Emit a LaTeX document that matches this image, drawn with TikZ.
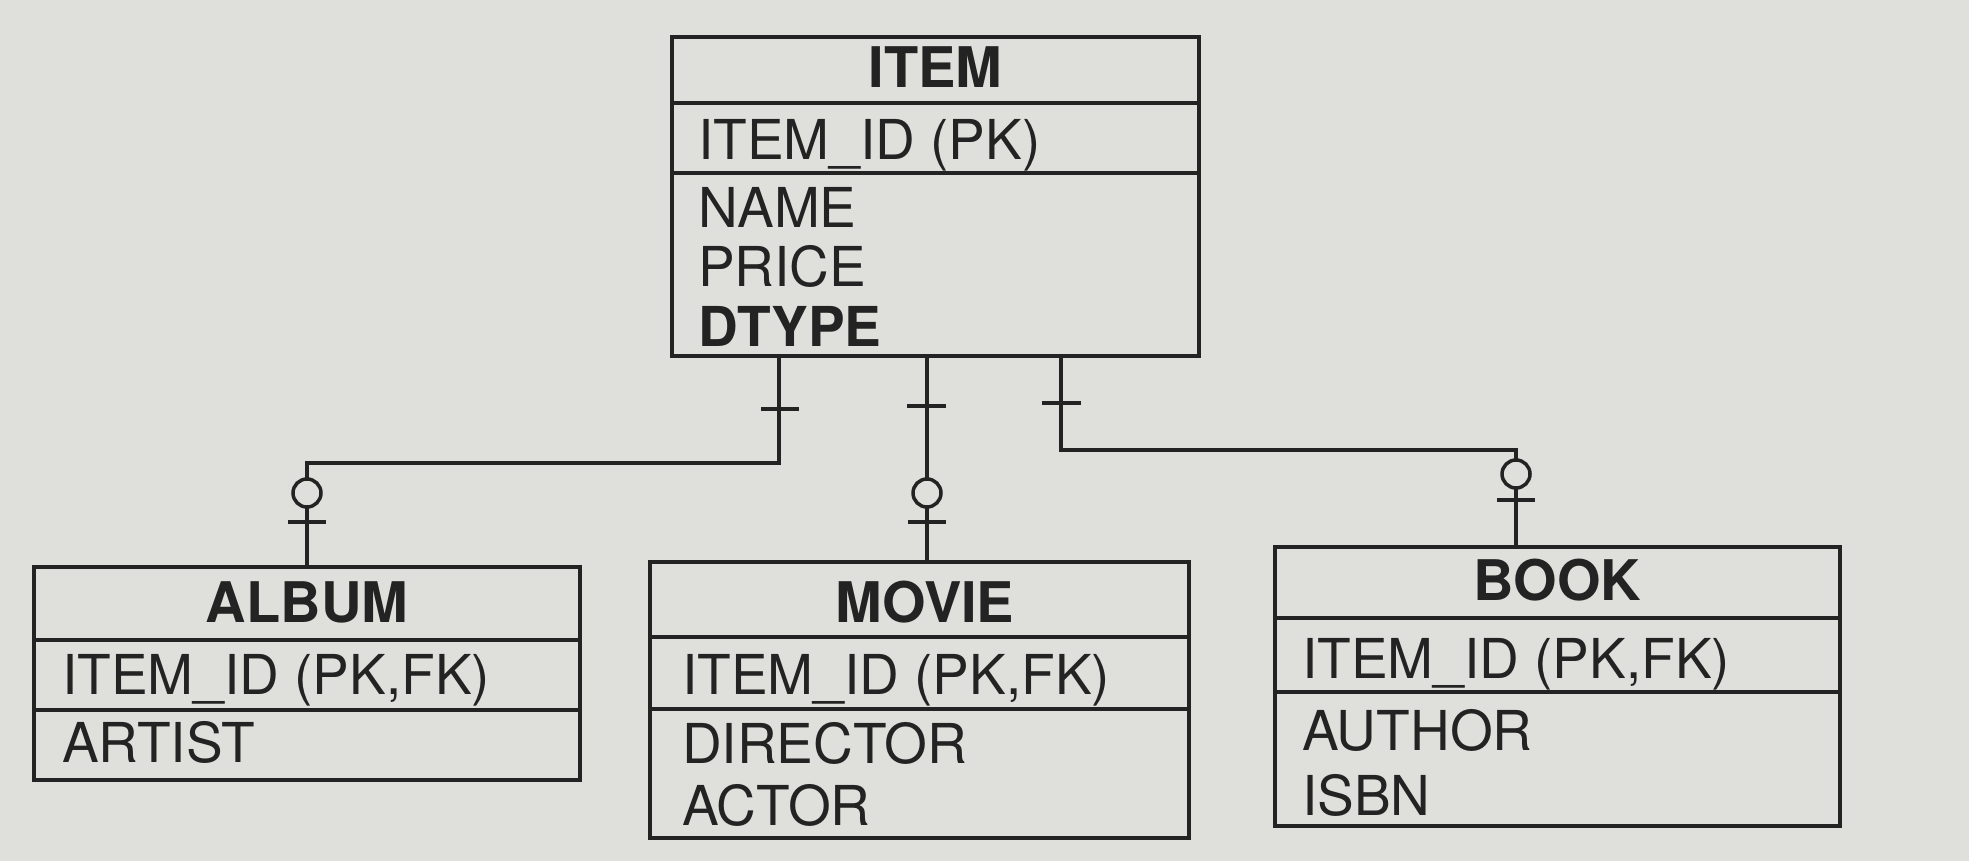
\documentclass[tikz,border=0pt]{standalone}
\usepackage{fontspec}
\setmainfont{TeX Gyre Heros}
\definecolor{bg}{RGB}{223,223,219}
\definecolor{ink}{RGB}{35,35,35}
\tikzset{
  entity/.style={draw=ink, line width=4pt, rectangle, inner sep=0pt},
  sepline/.style={draw=ink, line width=3.5pt},
  conn/.style={draw=ink, line width=3.5pt},
  field/.style={anchor=base west, inner sep=0pt, text=ink, font=\fontsize{55}{60}\selectfont},
  title/.style={anchor=base, inner sep=0pt, text=ink, font=\fontsize{56}{60}\selectfont\bfseries},
  circ/.style={draw=ink, line width=3.5pt, fill=bg}
}
\begin{document}
\begin{tikzpicture}[x=1pt,y=-1pt]
\fill[bg] (0,0) rectangle (1969,861);
\useasboundingbox (0,0) rectangle (1969,861);

% ITEM
\node[entity, minimum width=527pt, minimum height=319pt] (item) at (935.5,196.5) {};
\draw[sepline] (item.west |- 0,103) -- (item.east |- 0,103);
\draw[sepline] (item.west |- 0,173) -- (item.east |- 0,173);
\node[title] (itemt) at (935.5,88) {ITEM};
\node[field] (itemid) at (698,160) {ITEM\_ID (PK)};
\node[field] (itemname) at (698,227) {NAME};
\node[field] (itemprice) at (698,286) {PRICE};
\node[field, font=\fontsize{55}{60}\selectfont\bfseries] (itemdtype) at (698,346) {DTYPE};

% ALBUM
\node[entity, minimum width=546pt, minimum height=213pt] (album) at (307,673.5) {};
\draw[sepline] (album.west |- 0,640) -- (album.east |- 0,640);
\draw[sepline] (album.west |- 0,710) -- (album.east |- 0,710);
\node[title] (albumt) at (307,622) {ALBUM};
\node[field] (albumid) at (62,694) {ITEM\_ID (PK,FK)};
\node[field] (albumartist) at (62,762) {ARTIST};

% MOVIE
\node[entity, minimum width=539pt, minimum height=276pt] (movie) at (919.5,700) {};
\draw[sepline] (movie.west |- 0,637) -- (movie.east |- 0,637);
\draw[sepline] (movie.west |- 0,709) -- (movie.east |- 0,709);
\node[title] (moviet) at (925,622) {MOVIE};
\node[field] (movieid) at (682,694) {ITEM\_ID (PK,FK)};
\node[field] (moviedir) at (682,763) {DIRECTOR};
\node[field] (movieact) at (682,825) {ACTOR};

% BOOK
\node[entity, minimum width=565pt, minimum height=279pt] (book) at (1557.5,686.5) {};
\draw[sepline] (book.west |- 0,618) -- (book.east |- 0,618);
\draw[sepline] (book.west |- 0,692) -- (book.east |- 0,692);
\node[title] (bookt) at (1557.5,600) {BOOK};
\node[field] (bookid) at (1302,678) {ITEM\_ID (PK,FK)};
\node[field] (bookauthor) at (1302,750) {AUTHOR};
\node[field] (bookisbn) at (1302,815) {ISBN};

% connectors
\coordinate (lbend) at (779,463);
\coordinate (rbend) at (1516,450);
\draw[conn] (item.south -| 779,0) -- (lbend) -| (album.north);
\draw[conn] (item.south -| 927,0) -- (movie.north -| 927,0);
\draw[conn] (item.south -| 1061,0) |- (rbend) -- (book.north -| 1516,0);

% cardinality marks: ITEM side (one)
\draw[conn] (761,409) -- (799,409);
\draw[conn] (907,406) -- (946,406);
\draw[conn] (1042,403) -- (1081,403);

% child side (zero or one)
\draw[conn] (288,522) -- (326,522);
\draw[circ] (307,493) circle[radius=14pt];
\draw[conn] (908,522) -- (946,522);
\draw[circ] (927,493) circle[radius=14pt];
\draw[conn] (1497,500) -- (1535,500);
\draw[circ] (1516,474) circle[radius=14pt];
\end{tikzpicture}
\end{document}
